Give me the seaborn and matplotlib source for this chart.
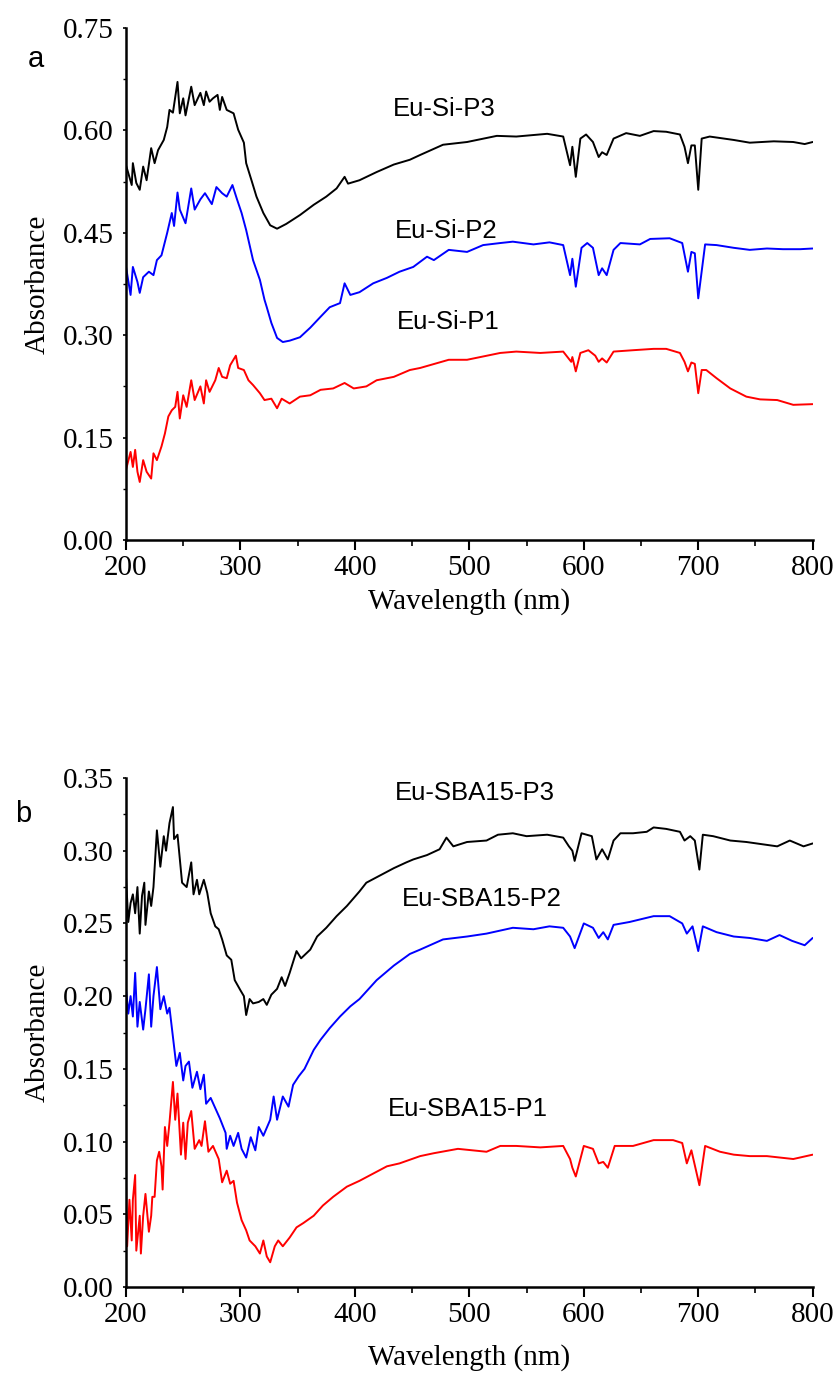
import matplotlib
matplotlib.use("Agg")
import matplotlib.pyplot as plt
import numpy as np
import pandas as pd
import seaborn as sns
from matplotlib.ticker import MultipleLocator, FormatStrFormatter

# ---------------- data ----------------
# Panel a
a_p3_x = [200, 205, 206, 209, 212, 215, 218, 222, 225, 228, 233, 236, 238, 241, 245, 247, 250, 252, 257, 260,
          265, 268, 270, 273, 276, 280, 282, 284, 288, 294, 298, 303, 305, 310, 314, 320, 326, 332, 340, 352,
          364, 375, 384, 391, 394, 404, 419, 434, 448, 457, 477, 498, 524, 541, 568, 582, 588, 590, 593, 597,
          602, 608, 613, 616, 620, 626, 637, 649, 661, 672, 684, 688, 691, 694, 697, 700, 703, 710, 731, 745,
          766, 783, 793, 800]
a_p3_y = [0.549, 0.520, 0.552, 0.523, 0.513, 0.547, 0.527, 0.574, 0.552, 0.571, 0.586, 0.605, 0.630, 0.626,
          0.671, 0.625, 0.647, 0.622, 0.664, 0.637, 0.655, 0.637, 0.657, 0.642, 0.647, 0.652, 0.630, 0.649,
          0.630, 0.625, 0.601, 0.582, 0.552, 0.525, 0.503, 0.479, 0.461, 0.456, 0.463, 0.476, 0.491, 0.503,
          0.515, 0.532, 0.522, 0.527, 0.539, 0.550, 0.557, 0.564, 0.579, 0.583, 0.592, 0.591, 0.595, 0.591,
          0.549, 0.576, 0.532, 0.588, 0.594, 0.583, 0.561, 0.568, 0.564, 0.588, 0.596, 0.592, 0.599, 0.598,
          0.594, 0.576, 0.552, 0.578, 0.578, 0.513, 0.588, 0.591, 0.586, 0.582, 0.584, 0.583, 0.580, 0.583]

a_p2_x = [200, 204, 206, 210, 212, 215, 220, 224, 227, 231, 236, 240, 242, 245, 247, 252, 257, 260, 265, 269,
          275, 279, 284, 288, 293, 297, 301, 305, 311, 317, 321, 323, 327, 332, 337, 343, 352, 361, 370, 378,
          387, 391, 396, 404, 416, 428, 439, 451, 463, 469, 482, 498, 512, 527, 538, 556, 570, 582, 588, 590,
          593, 598, 603, 608, 613, 616, 620, 626, 632, 649, 658, 675, 686, 691, 694, 697, 700, 706, 716, 731,
          745, 760, 774, 789, 800]
a_p2_y = [0.400, 0.359, 0.400, 0.378, 0.362, 0.385, 0.393, 0.388, 0.410, 0.417, 0.450, 0.479, 0.460, 0.509,
          0.484, 0.464, 0.515, 0.484, 0.499, 0.508, 0.492, 0.517, 0.508, 0.503, 0.520, 0.499, 0.479, 0.454,
          0.410, 0.381, 0.352, 0.341, 0.318, 0.296, 0.290, 0.292, 0.297, 0.311, 0.327, 0.341, 0.347, 0.376,
          0.359, 0.363, 0.376, 0.384, 0.393, 0.400, 0.415, 0.410, 0.425, 0.422, 0.432, 0.435, 0.437, 0.433,
          0.436, 0.432, 0.388, 0.412, 0.371, 0.428, 0.435, 0.428, 0.388, 0.398, 0.388, 0.425, 0.435, 0.433,
          0.441, 0.442, 0.435, 0.393, 0.422, 0.420, 0.354, 0.433, 0.432, 0.428, 0.425, 0.427, 0.426, 0.426,
          0.427]

a_p1_x = [200, 204, 206, 208, 210, 212, 215, 218, 222, 224, 227, 231, 234, 237, 240, 243, 245, 247, 250, 253,
          257, 260, 265, 268, 270, 273, 278, 281, 284, 288, 291, 296, 298, 303, 307, 311, 317, 321, 327, 332,
          336, 343, 352, 361, 370, 381, 391, 399, 410, 419, 434, 448, 457, 482, 498, 527, 541, 562, 582, 589,
          590, 593, 597, 604, 610, 613, 616, 620, 626, 643, 661, 672, 684, 688, 691, 694, 697, 700, 703, 707,
          716, 728, 742, 754, 769, 783, 800]
a_p1_y = [0.103, 0.129, 0.107, 0.132, 0.100, 0.085, 0.117, 0.100, 0.090, 0.127, 0.117, 0.137, 0.156, 0.181,
          0.190, 0.195, 0.217, 0.178, 0.212, 0.195, 0.234, 0.205, 0.225, 0.200, 0.234, 0.217, 0.234, 0.252,
          0.239, 0.237, 0.256, 0.270, 0.252, 0.249, 0.234, 0.227, 0.215, 0.205, 0.207, 0.193, 0.207, 0.200,
          0.210, 0.212, 0.220, 0.222, 0.230, 0.222, 0.225, 0.234, 0.239, 0.249, 0.252, 0.264, 0.264, 0.274,
          0.276, 0.274, 0.276, 0.261, 0.268, 0.247, 0.274, 0.278, 0.270, 0.261, 0.266, 0.260, 0.276, 0.278,
          0.280, 0.280, 0.274, 0.261, 0.247, 0.260, 0.258, 0.215, 0.249, 0.249, 0.237, 0.222, 0.210, 0.206,
          0.205, 0.198, 0.199]

# Panel b
b_p3_x = [200, 202, 204, 206, 208, 210, 212, 214, 216, 217, 220, 222, 224, 227, 230, 233, 235, 238, 241, 242,
          245, 249, 253, 257, 259, 262, 264, 268, 271, 274, 278, 281, 284, 288, 292, 295, 300, 303, 305, 308,
          311, 316, 320, 323, 327, 332, 336, 339, 343, 349, 353, 361, 367, 375, 384, 393, 404, 410, 422, 434,
          445, 451, 463, 474, 480, 486, 498, 515, 525, 538, 550, 568, 582, 587, 590, 592, 598, 607, 611, 616,
          621, 626, 632, 643, 655, 661, 672, 684, 688, 693, 697, 701, 704, 713, 728, 742, 760, 769, 780, 792,
          800]
b_p3_y = [0.282, 0.251, 0.264, 0.270, 0.257, 0.275, 0.243, 0.269, 0.278, 0.249, 0.272, 0.262, 0.275, 0.314,
          0.289, 0.310, 0.300, 0.319, 0.330, 0.308, 0.311, 0.278, 0.275, 0.292, 0.270, 0.280, 0.270, 0.280,
          0.271, 0.257, 0.248, 0.246, 0.239, 0.228, 0.225, 0.211, 0.204, 0.200, 0.187, 0.198, 0.195, 0.196,
          0.198, 0.194, 0.201, 0.205, 0.213, 0.207, 0.216, 0.231, 0.226, 0.232, 0.241, 0.247, 0.255, 0.262,
          0.272, 0.278, 0.283, 0.288, 0.292, 0.294, 0.297, 0.301, 0.309, 0.303, 0.306, 0.307, 0.311, 0.312,
          0.310, 0.311, 0.309, 0.303, 0.300, 0.293, 0.312, 0.310, 0.294, 0.301, 0.294, 0.307, 0.312, 0.312,
          0.313, 0.316, 0.315, 0.313, 0.307, 0.310, 0.307, 0.287, 0.311, 0.310, 0.307, 0.306, 0.304, 0.303,
          0.307, 0.303, 0.305]

b_p2_x = [200, 202, 204, 206, 208, 210, 212, 215, 217, 220, 222, 224, 227, 230, 233, 236, 238, 241, 244, 247,
          250, 252, 255, 258, 262, 265, 268, 270, 274, 278, 282, 287, 288, 291, 294, 298, 301, 305, 309, 313,
          316, 320, 326, 329, 332, 337, 342, 346, 351, 356, 364, 370, 378, 387, 396, 404, 419, 434, 448, 457,
          477, 498, 515, 538, 556, 570, 582, 588, 592, 600, 608, 613, 617, 621, 626, 640, 661, 675, 686, 690,
          695, 700, 704, 716, 731, 745, 760, 771, 782, 793, 800]
b_p2_y = [0.205, 0.188, 0.200, 0.186, 0.216, 0.179, 0.196, 0.177, 0.191, 0.215, 0.179, 0.200, 0.220, 0.191,
          0.200, 0.188, 0.192, 0.172, 0.152, 0.161, 0.142, 0.152, 0.155, 0.137, 0.148, 0.136, 0.146, 0.126,
          0.130, 0.123, 0.116, 0.106, 0.095, 0.104, 0.097, 0.106, 0.095, 0.089, 0.103, 0.094, 0.110, 0.104,
          0.115, 0.131, 0.115, 0.131, 0.124, 0.139, 0.145, 0.150, 0.163, 0.170, 0.178, 0.186, 0.193, 0.198,
          0.211, 0.221, 0.229, 0.232, 0.239, 0.241, 0.243, 0.247, 0.246, 0.248, 0.247, 0.241, 0.233, 0.250,
          0.247, 0.240, 0.244, 0.239, 0.249, 0.251, 0.255, 0.255, 0.250, 0.243, 0.248, 0.231, 0.248, 0.244,
          0.241, 0.240, 0.238, 0.242, 0.238, 0.235, 0.240]

b_p1_x = [200, 201, 203, 205, 206, 208, 209, 212, 213, 215, 217, 220, 222, 223, 225, 227, 229, 231, 232, 234,
          236, 238, 241, 243, 245, 248, 250, 252, 254, 257, 260, 264, 266, 269, 272, 276, 281, 284, 288, 291,
          294, 297, 301, 305, 308, 313, 317, 320, 323, 326, 330, 333, 337, 343, 349, 355, 364, 372, 381, 393,
          404, 416, 428, 439, 457, 469, 490, 515, 527, 541, 562, 582, 588, 590, 593, 600, 608, 613, 617, 621,
          627, 643, 661, 678, 686, 690, 694, 701, 706, 719, 731, 745, 760, 783, 800]
b_p1_y = [0.072, 0.028, 0.060, 0.032, 0.060, 0.077, 0.025, 0.049, 0.023, 0.049, 0.064, 0.038, 0.049, 0.062,
          0.062, 0.087, 0.093, 0.083, 0.067, 0.110, 0.097, 0.113, 0.141, 0.115, 0.133, 0.091, 0.113, 0.088,
          0.113, 0.121, 0.095, 0.101, 0.097, 0.114, 0.093, 0.097, 0.088, 0.072, 0.080, 0.071, 0.073, 0.058,
          0.046, 0.039, 0.032, 0.028, 0.023, 0.032, 0.021, 0.017, 0.028, 0.032, 0.028, 0.034, 0.041, 0.044,
          0.049, 0.056, 0.062, 0.069, 0.073, 0.078, 0.083, 0.085, 0.090, 0.092, 0.095, 0.093, 0.097, 0.097,
          0.096, 0.097, 0.088, 0.082, 0.076, 0.097, 0.095, 0.085, 0.086, 0.082, 0.097, 0.097, 0.101, 0.101,
          0.099, 0.085, 0.094, 0.070, 0.097, 0.093, 0.091, 0.090, 0.090, 0.088, 0.091]

a_names = ["Eu-Si-P3", "Eu-Si-P2", "Eu-Si-P1"]
b_names = ["Eu-SBA15-P3", "Eu-SBA15-P2", "Eu-SBA15-P1"]
series_colors = ["#000000", "#0000FF", "#FF0000"]

a_label_pos = [(433, 0.632), (435, 0.453), (437, 0.319)]
b_label_pos = [(435, 0.340), (441, 0.267), (429, 0.1225)]

a_yticks = [0.00, 0.15, 0.30, 0.45, 0.60, 0.75]
b_yticks = [0.00, 0.05, 0.10, 0.15, 0.20, 0.25, 0.30, 0.35]
xticks = [200, 300, 400, 500, 600, 700, 800]

# ---------------- styling ----------------
sns.set_style("ticks")
plt.rcParams["font.family"] = ["Liberation Serif", "DejaVu Serif"]
plt.rcParams["axes.linewidth"] = 1.8
plt.rcParams["text.color"] = "black"
plt.rcParams["axes.labelcolor"] = "black"
plt.rcParams["xtick.color"] = "black"
plt.rcParams["ytick.color"] = "black"
plt.rcParams["axes.edgecolor"] = "black"

W, H = 840, 1375
fig = plt.figure(figsize=(W / 100, H / 100), dpi=100)
ax_a = fig.add_axes([126 / W, 1 - 540 / H, 686.7 / W, 512 / H])
ax_b = fig.add_axes([126 / W, 1 - 1287 / H, 686.7 / W, 509 / H])


def make_df(xs, ys, names):
    frames = []
    for x, y, n in zip(xs, ys, names):
        assert len(x) == len(y), n
        frames.append(pd.DataFrame({"wavelength": x, "absorbance": y, "sample": n}))
    return pd.concat(frames, ignore_index=True)


df_a = make_df([a_p3_x, a_p2_x, a_p1_x], [a_p3_y, a_p2_y, a_p1_y], a_names)
df_b = make_df([b_p3_x, b_p2_x, b_p1_x], [b_p3_y, b_p2_y, b_p1_y], b_names)


def draw(ax, df, names, label_pos, yticks, ymax, yminor, xlabel_y):
    sns.lineplot(data=df, x="wavelength", y="absorbance", hue="sample",
                 palette=dict(zip(names, series_colors)), hue_order=names,
                 estimator=None, sort=False, legend=False, linewidth=1.4, ax=ax)
    ax.set_xlim(200, 800)
    ax.set_ylim(0, ymax)
    ax.set_xticks(xticks)
    ax.set_yticks(yticks)
    ax.xaxis.set_minor_locator(MultipleLocator(50))
    ax.yaxis.set_minor_locator(MultipleLocator(yminor))
    ax.yaxis.set_major_formatter(FormatStrFormatter("%.2f"))
    for s in ["top", "right"]:
        ax.spines[s].set_visible(False)
    for s in ["left", "bottom"]:
        ax.spines[s].set_color("black")
    ax.tick_params(axis="x", which="major", direction="out", length=7, width=1.5,
                   labelsize=21, pad=4, colors="black")
    ax.tick_params(axis="x", which="minor", direction="out", length=4, width=1.2, colors="black")
    ax.tick_params(axis="y", which="major", direction="out", length=2, width=1.2,
                   labelsize=21, pad=7, colors="black")
    ax.tick_params(axis="y", which="minor", direction="out", length=2, width=1.0, colors="black")
    ax.set_xlabel("Wavelength (nm)", fontsize=21, color="black")
    ax.set_ylabel("Absorbance", fontsize=21, color="black")
    ax.xaxis.set_label_coords(0.5, xlabel_y)
    ax.yaxis.set_label_coords(-0.11, 0.5)
    for (tx, ty), n in zip(label_pos, names):
        ax.text(tx, ty, n, fontsize=18.5, family=["Liberation Sans", "DejaVu Sans"],
                ha="left", va="center", color="black")


draw(ax_a, df_a, a_names, a_label_pos, a_yticks, 0.75, 0.075, -(588 - 540) / 512)
draw(ax_b, df_b, b_names, b_label_pos, b_yticks, 0.35, 0.025, -(1344 - 1287) / 509)

fig.text(36 / W, 1 - 67 / H, "a", fontsize=21, family=["Liberation Sans", "DejaVu Sans"],
         ha="center", va="baseline", color="black")
fig.text(23 / W, 1 - 822 / H, "b", fontsize=21, family=["Liberation Sans", "DejaVu Sans"],
         ha="center", va="baseline", color="black")

fig.savefig("out.png", dpi=100, facecolor="white")
